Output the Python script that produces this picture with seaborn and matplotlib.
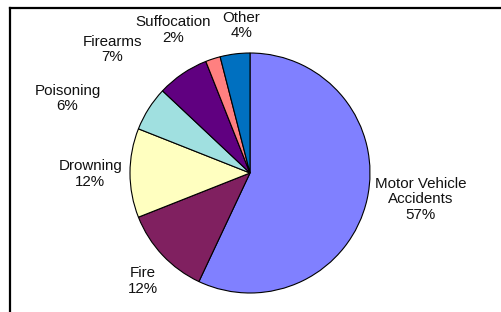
import matplotlib
matplotlib.use("Agg")
import matplotlib.pyplot as plt
import seaborn as sns
from matplotlib.lines import Line2D

# data
causes = ["Motor Vehicle\nAccidents", "Fire", "Drowning", "Poisoning",
          "Firearms", "Suffocation", "Other"]
shares = [57, 12, 12, 6, 7, 2, 4]
colors = ["#8080FF", "#802060", "#FFFFC0", "#A0E0E0", "#600080", "#FF8080", "#0070C0"]

# label placement (pie units, radius = 1), Excel-style best fit
label_pos = [(1.42, -0.22), (-0.89, -0.90), (-1.33, -0.01), (-1.52, 0.62),
             (-1.15, 1.03), (-0.64, 1.19), (-0.07, 1.23)]

sns.set_theme(style="white")
plt.rcParams["font.family"] = ["Liberation Sans", "DejaVu Sans"]

fig = plt.figure(figsize=(5.02, 3.12), dpi=100)
ax = fig.add_axes([0, 0, 1, 1])

wedges, _ = ax.pie(shares, colors=colors, startangle=90, counterclock=False,
                   radius=1.0, wedgeprops=dict(edgecolor="black", linewidth=0.8))

for (x, y), name, pct in zip(label_pos, causes, shares):
    ax.text(x, y, f"{name}\n{pct}%", ha="center", va="center",
            fontsize=10.9, color="#111111", linespacing=1.15)

# map pie so centre sits at (250, 173) px with radius 120 px
ax.set_xlim(-250 / 120, (502 - 250) / 120)
ax.set_ylim((173 - 312) / 120, 173 / 120)
ax.set_aspect("auto")
ax.axis("off")

# chart frame: only top and left edges fall inside the image
top = 1 - 7.5 / 312
left = 10 / 502
fig.add_artist(Line2D([left, 1], [top, top], transform=fig.transFigure,
                      color="black", linewidth=1.6, solid_capstyle="projecting"))
fig.add_artist(Line2D([left, left], [0, top], transform=fig.transFigure,
                      color="black", linewidth=1.6, solid_capstyle="projecting"))

fig.savefig("out.png", dpi=100, facecolor="white")
